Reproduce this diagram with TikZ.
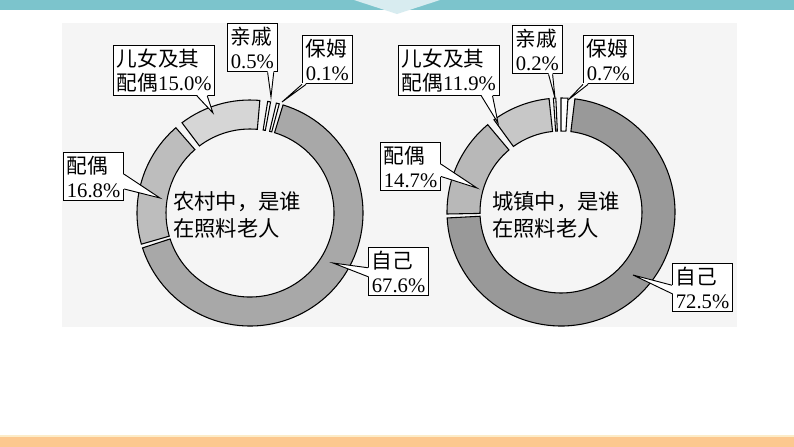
\documentclass[tikz,border=0pt]{standalone}
\usepackage{fontspec}
\setmainfont{Liberation Serif}
\newfontfamily\cjk{Noto Sans CJK SC}
\usetikzlibrary{calc}
\newcommand\myseg[5]{\filldraw[fill=#1,line width=0.8pt] (#2:#4) arc[start angle=#2,end angle=#3,radius=#4] -- (#3:#5) arc[start angle=#3,end angle=#2,radius=#5] -- cycle;}
\newcommand\callout[5]{% box, side anchor a, side anchor b, frac1, frac2, tip given as #5
}
\begin{document}
\begin{tikzpicture}[x=0.75pt,y=-0.75pt,
  lbl/.style={draw,fill=white,line width=0.8pt,inner sep=2.5pt,align=left,font=\fontsize{15.5}{18}\selectfont,anchor=north west},
  ctr/.style={align=left,font=\fontsize{16}{20}\selectfont},
  ptr/.style={fill=white,draw,line width=0.7pt}]
\useasboundingbox (0,0) rectangle (794,447);
\fill[white] (0,0) rectangle (794,447);
\fill[fill=black!4] (62,23) rectangle (737,327);
\fill[fill={rgb,255:red,124;green,196;blue,204}] (0,0) rectangle (794,10);
\fill[fill={rgb,255:red,216;green,236;blue,240}] (354,0) -- (440,0) -- (397,14) -- cycle;
\fill[fill={rgb,255:red,252;green,200;blue,143}] (0,437) rectangle (794,447);
\fill[fill={rgb,255:red,252;green,236;blue,200}] (0,435) rectangle (794,437);
% left donut
\begin{scope}[shift={(250,213)},yscale=-1]
\myseg{black!34}{73}{-162}{113}{84}
\myseg{black!26}{196}{131}{113}{84}
\myseg{black!16}{127}{85}{113}{84}
\myseg{white}{81}{79.5}{113}{84}
\myseg{white}{76.5}{75}{113}{84}
\end{scope}
% right donut
\begin{scope}[shift={(561,212)},yscale=-1]
\myseg{black!40}{83}{-177}{114}{81}
\myseg{black!28}{181}{130}{114}{81}
\myseg{black!22}{126}{96}{114}{81}
\myseg{white}{93.8}{92.6}{114}{81}
\myseg{white}{90}{86.5}{114}{81}
\end{scope}
\node[ctr] (c1) at (237,215) {\cjk 农村中，是谁\\\cjk 在照料老人};
\node[ctr] (c2) at (556,215) {\cjk 城镇中，是谁\\\cjk 在照料老人};
% left labels
\node[lbl] (a1) at (113,45) {{\cjk 儿女及其}\\{\cjk 配偶}15.0\%};
\node[lbl] (a2) at (227,23) {{\cjk 亲戚}\\0.5\%};
\node[lbl] (a3) at (302,35) {{\cjk 保姆}\\0.1\%};
\node[lbl] (a4) at (63,152) {{\cjk 配偶}\\16.8\%};
\node[lbl] (a5) at (368,247) {{\cjk 自己}\\67.6\%};
% right labels
\node[lbl] (b1) at (398,45) {{\cjk 儿女及其}\\{\cjk 配偶}11.9\%};
\node[lbl] (b2) at (512,25) {{\cjk 亲戚}\\0.2\%};
\node[lbl] (b3) at (583,35) {{\cjk 保姆}\\0.7\%};
\node[lbl] (b4) at (380,142) {{\cjk 配偶}\\14.7\%};
\node[lbl] (b5) at (672,263) {{\cjk 自己}\\72.5\%};
% tips
\coordinate (ta1) at (213,113);
\coordinate (ta2) at (271,97);
\coordinate (ta3) at (282,102);
\coordinate (ta4) at (160,198);
\coordinate (ta5) at (333,263);
\coordinate (tb1) at (498,123);
\coordinate (tb2) at (555,98);
\coordinate (tb3) at (568,100);
\coordinate (tb4) at (477,188);
\coordinate (tb5) at (633,275);
% pointers: bottom edge
\foreach \n/\t/\f/\g in {a1/ta1/0.82/0.92, a2/ta2/0.80/0.92, a3/ta3/0.0/0.08, b1/tb1/0.82/0.93, b2/tb2/0.72/0.80, b3/tb3/0.0/0.1}{
  \fill[white] ($(\n.south west)!\f!(\n.south east)+(0,-1.2)$) -- (\t) -- ($(\n.south west)!\g!(\n.south east)+(0,-1.2)$) -- cycle;
  \draw[line width=0.7pt] ($(\n.south west)!\f!(\n.south east)$) -- (\t) -- ($(\n.south west)!\g!(\n.south east)$);
}
% pointers: right edge
\foreach \n/\t/\f/\g in {a4/ta4/0.45/0.75, b4/tb4/0.45/0.7}{
  \fill[white] ($(\n.north east)!\f!(\n.south east)+(-1.2,0)$) -- (\t) -- ($(\n.north east)!\g!(\n.south east)+(-1.2,0)$) -- cycle;
  \draw[line width=0.7pt] ($(\n.north east)!\f!(\n.south east)$) -- (\t) -- ($(\n.north east)!\g!(\n.south east)$);
}
% pointers: left edge
\foreach \n/\t/\f/\g in {a5/ta5/0.42/0.6, b5/tb5/0.45/0.62}{
  \fill[white] ($(\n.north west)!\f!(\n.south west)+(1.2,0)$) -- (\t) -- ($(\n.north west)!\g!(\n.south west)+(1.2,0)$) -- cycle;
  \draw[line width=0.7pt] ($(\n.north west)!\f!(\n.south west)$) -- (\t) -- ($(\n.north west)!\g!(\n.south west)$);
}
\end{tikzpicture}
\end{document}
